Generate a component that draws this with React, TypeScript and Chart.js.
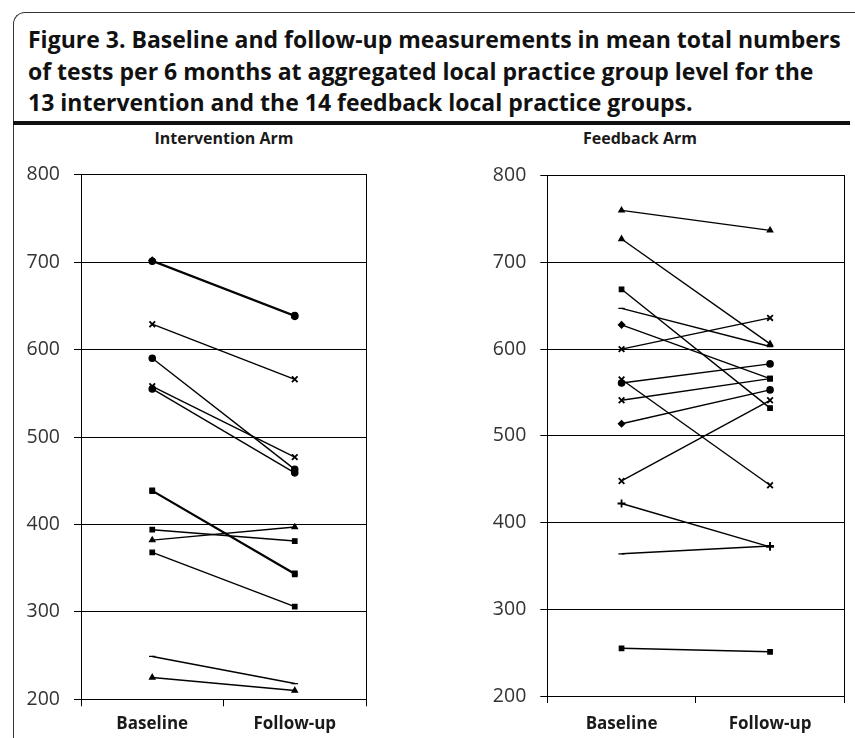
import React, { useEffect, useRef } from "react";
import { Chart, registerables } from "chart.js";

Chart.register(...registerables);

const CATEGORIES = ["Baseline", "Follow-up"];
const Y_MIN = 200;
const Y_MAX = 800;
const Y_STEP = 100;

const INTERVENTION_BASELINE = [701, 702, 629, 590, 558, 555, 438, 439, 394, 382, 368, 249, 225];
const INTERVENTION_FOLLOWUP = [638, 639, 566, 463, 477, 459, 343, 344, 381, 397, 306, 218, 210];
const INTERVENTION_MARKERS = [
  ["circle", "circle"],
  ["rectRot", "circle"],
  ["crossRot", "crossRot"],
  ["circle", "circle"],
  ["crossRot", "crossRot"],
  ["circle", "circle"],
  ["rect", "rect"],
  ["rect", "rect"],
  ["rect", "rect"],
  ["triangle", "triangle"],
  ["rect", "rect"],
  ["line", "line"],
  ["triangle", "triangle"],
];

const FEEDBACK_BASELINE = [760, 727, 669, 647, 628, 600, 565, 561, 541, 514, 448, 422, 364, 255];
const FEEDBACK_FOLLOWUP = [737, 606, 532, 603, 566, 636, 443, 583, 566, 553, 541, 372, 373, 251];
const FEEDBACK_MARKERS = [
  ["triangle", "triangle"],
  ["triangle", "triangle"],
  ["rect", "rect"],
  ["line", "line"],
  ["rectRot", "rect"],
  ["crossRot", "crossRot"],
  ["crossRot", "crossRot"],
  ["circle", "circle"],
  ["crossRot", "rect"],
  ["rectRot", "circle"],
  ["crossRot", "crossRot"],
  ["cross", "cross"],
  ["line", "cross"],
  ["rect", "rect"],
];

type PanelProps = {
  baseline: number[];
  followup: number[];
  markers: string[][];
  width: number;
  height: number;
  pad: { left: number; right: number; top: number; bottom: number };
  xHeight: number;
  xLabelPad: number;
};

function Panel(props: PanelProps) {
  const ref = useRef<HTMLCanvasElement | null>(null);
  useEffect(() => {
    if (!ref.current) return;
    const datasets = props.baseline.map((b, i) => ({
      label: "Group " + (i + 1),
      data: [b, props.followup[i]],
      borderColor: "#000",
      backgroundColor: "#000",
      borderWidth: 1.4,
      pointStyle: props.markers[i] as any,
      pointRadius: props.markers[i].map((m) => (m === "crossRot" || m === "cross" ? 4 : 3.2)),
      pointBorderWidth: props.markers[i].map((m) => (m === "crossRot" || m === "cross" ? 1.8 : 1.2)),
      pointBorderColor: "#000",
      pointBackgroundColor: "#000",
      tension: 0,
      fill: false,
    }));
    const chart = new Chart(ref.current, {
      type: "line",
      data: { labels: CATEGORIES, datasets },
      options: {
        responsive: false,
        animation: false,
        layout: { padding: props.pad },
        plugins: { legend: { display: false }, tooltip: { enabled: false }, title: { display: false } },
        scales: {
          x: {
            type: "category",
            offset: true,
            grid: {
              offset: true,
              drawOnChartArea: false,
              drawTicks: true,
              tickLength: 7,
              color: "#000",
              lineWidth: 1,
            },
            border: { display: true, color: "#000", width: 1 },
            ticks: {
              color: "#1a1a1a",
              padding: props.xLabelPad,
              font: { family: "'Open Sans'", size: 17, weight: "bold" },
            },
            afterFit: (s: any) => {
              s.height = props.xHeight;
              s.paddingLeft = 0;
              s.paddingRight = 0;
            },
          },
          y: {
            type: "linear",
            position: "left",
            min: Y_MIN,
            max: Y_MAX,
            ticks: {
              stepSize: Y_STEP,
              color: "#333",
              padding: 14,
              font: { family: "'Open Sans'", size: 19.5 },
            },
            grid: { color: "#000", lineWidth: 1, tickLength: 7, drawTicks: true },
            border: { display: true, color: "#000", width: 1 },
            afterFit: (s: any) => {
              s.width = 68;
              s.paddingTop = 0;
              s.paddingBottom = 0;
            },
          },
          y2: {
            type: "linear",
            position: "right",
            min: Y_MIN,
            max: Y_MAX,
            ticks: { display: false },
            grid: { drawOnChartArea: false, drawTicks: false },
            border: { display: true, color: "#000", width: 1 },
            afterFit: (s: any) => {
              s.width = 0;
              s.paddingTop = 0;
              s.paddingBottom = 0;
            },
          },
        },
      } as any,
    });
    return () => chart.destroy();
  }, []);
  return <canvas ref={ref} width={props.width} height={props.height} style={{ display: "block" }} />;
}

export default function App() {
  return (
    <div
      style={{
        position: "absolute",
        left: 0,
        top: 0,
        width: 855,
        height: 738,
        overflow: "hidden",
        background: "#fff",
        fontFamily: "'Open Sans', sans-serif",
      }}
    >
      <div
        style={{
          position: "absolute",
          left: 13,
          top: 12,
          width: 950,
          height: 900,
          borderLeft: "1.5px solid #333",
          borderTop: "1.5px solid #333",
          borderTopLeftRadius: 12,
          boxSizing: "border-box",
        }}
      />
      <div
        style={{
          position: "absolute",
          left: 28,
          top: 24,
          fontWeight: 700,
          fontSize: 23,
          lineHeight: "31.5px",
          whiteSpace: "nowrap",
          color: "#111",
        }}
      >
        Figure 3. Baseline and follow-up measurements in mean total numbers
        <br />
        of tests per 6 months at aggregated local practice group level for the
        <br />
        13 intervention and the 14 feedback local practice groups.
      </div>
      <div style={{ position: "absolute", left: 13, top: 121, width: 837, height: 4, background: "#111" }} />
      <div
        style={{
          position: "absolute",
          left: 124,
          width: 200,
          top: 127,
          textAlign: "center",
          fontWeight: 700,
          fontSize: 16,
          color: "#1a1a1a",
        }}
      >
        Intervention Arm
      </div>
      <div
        style={{
          position: "absolute",
          left: 540,
          width: 200,
          top: 127,
          textAlign: "center",
          fontWeight: 700,
          fontSize: 16,
          color: "#1a1a1a",
        }}
      >
        Feedback Arm
      </div>
      <div style={{ position: "absolute", left: 0, top: 160 }}>
        <Panel
          baseline={INTERVENTION_BASELINE}
          followup={INTERVENTION_FOLLOWUP}
          markers={INTERVENTION_MARKERS}
          width={380}
          height={578}
          pad={{ left: 13, right: 14, top: 14.7, bottom: 0 }}
          xHeight={38.7}
          xLabelPad={8}
        />
      </div>
      <div style={{ position: "absolute", left: 430, top: 160 }}>
        <Panel
          baseline={FEEDBACK_BASELINE}
          followup={FEEDBACK_FOLLOWUP}
          markers={FEEDBACK_MARKERS}
          width={425}
          height={578}
          pad={{ left: 49.3, right: 10.7, top: 15.7, bottom: 0 }}
          xHeight={42}
          xLabelPad={11}
        />
      </div>
    </div>
  );
}
